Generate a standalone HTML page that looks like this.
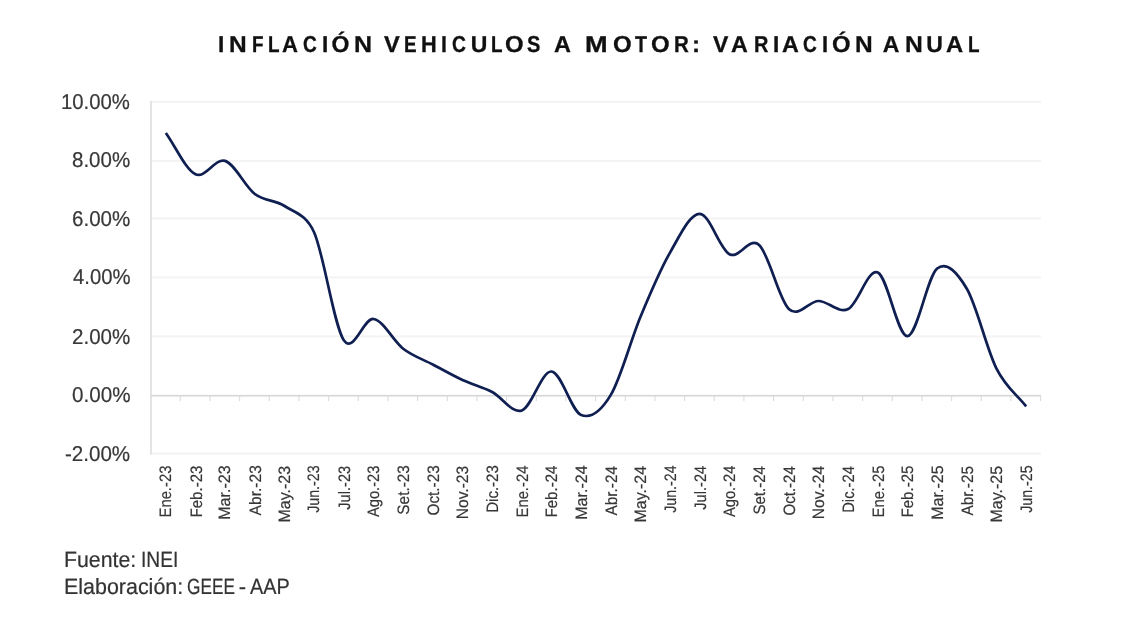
<!DOCTYPE html>
<html lang="es">
<head>
<meta charset="utf-8">
<title>Inflación vehículos a motor: variación anual</title>
<style>
html,body{margin:0;padding:0;background:#fff;}
body{width:1148px;height:621px;position:relative;overflow:hidden;font-family:"Liberation Sans",sans-serif;text-rendering:geometricPrecision;}
#chart{position:absolute;left:0;top:0;width:1148px;height:621px;will-change:transform;}
svg{position:absolute;left:0;top:0;}
.t{position:absolute;white-space:pre;transform-origin:0 0;font-family:"Liberation Sans",sans-serif;}
.xl{font-family:"Liberation Sans",sans-serif;font-size:16.5px;fill:#363636;stroke:#363636;stroke-width:0.2px;text-rendering:geometricPrecision;}
</style>
</head>
<body>
<div id="chart">
<svg width="1148" height="621" viewBox="0 0 1148 621">
<rect x="151.0" y="100.8" width="890.0" height="2" fill="#f3f3f3"/>
<rect x="151.0" y="159.9" width="890.0" height="2" fill="#f3f3f3"/>
<rect x="151.0" y="217.5" width="890.0" height="2" fill="#f3f3f3"/>
<rect x="151.0" y="276.4" width="890.0" height="2" fill="#f3f3f3"/>
<rect x="151.0" y="335.4" width="890.0" height="2" fill="#f3f3f3"/>
<rect x="151.0" y="452.6" width="890.0" height="2" fill="#f3f3f3"/>
<rect x="150" y="101" width="2" height="353.6" fill="#e4e4e4"/>
<rect x="151.0" y="394.9" width="890.0" height="1.6" fill="#d6d6d6"/>
<rect x="179.72" y="395.8" width="1.1" height="5.3" fill="#dcdcdc"/>
<rect x="209.38" y="395.8" width="1.1" height="5.3" fill="#dcdcdc"/>
<rect x="239.05" y="395.8" width="1.1" height="5.3" fill="#dcdcdc"/>
<rect x="268.72" y="395.8" width="1.1" height="5.3" fill="#dcdcdc"/>
<rect x="298.38" y="395.8" width="1.1" height="5.3" fill="#dcdcdc"/>
<rect x="328.05" y="395.8" width="1.1" height="5.3" fill="#dcdcdc"/>
<rect x="357.72" y="395.8" width="1.1" height="5.3" fill="#dcdcdc"/>
<rect x="387.38" y="395.8" width="1.1" height="5.3" fill="#dcdcdc"/>
<rect x="417.05" y="395.8" width="1.1" height="5.3" fill="#dcdcdc"/>
<rect x="446.72" y="395.8" width="1.1" height="5.3" fill="#dcdcdc"/>
<rect x="476.38" y="395.8" width="1.1" height="5.3" fill="#dcdcdc"/>
<rect x="506.05" y="395.8" width="1.1" height="5.3" fill="#dcdcdc"/>
<rect x="535.72" y="395.8" width="1.1" height="5.3" fill="#dcdcdc"/>
<rect x="565.38" y="395.8" width="1.1" height="5.3" fill="#dcdcdc"/>
<rect x="595.05" y="395.8" width="1.1" height="5.3" fill="#dcdcdc"/>
<rect x="624.72" y="395.8" width="1.1" height="5.3" fill="#dcdcdc"/>
<rect x="654.38" y="395.8" width="1.1" height="5.3" fill="#dcdcdc"/>
<rect x="684.05" y="395.8" width="1.1" height="5.3" fill="#dcdcdc"/>
<rect x="713.72" y="395.8" width="1.1" height="5.3" fill="#dcdcdc"/>
<rect x="743.38" y="395.8" width="1.1" height="5.3" fill="#dcdcdc"/>
<rect x="773.05" y="395.8" width="1.1" height="5.3" fill="#dcdcdc"/>
<rect x="802.72" y="395.8" width="1.1" height="5.3" fill="#dcdcdc"/>
<rect x="832.38" y="395.8" width="1.1" height="5.3" fill="#dcdcdc"/>
<rect x="862.05" y="395.8" width="1.1" height="5.3" fill="#dcdcdc"/>
<rect x="891.72" y="395.8" width="1.1" height="5.3" fill="#dcdcdc"/>
<rect x="921.38" y="395.8" width="1.1" height="5.3" fill="#dcdcdc"/>
<rect x="951.05" y="395.8" width="1.1" height="5.3" fill="#dcdcdc"/>
<rect x="980.72" y="395.8" width="1.1" height="5.3" fill="#dcdcdc"/>
<rect x="1010.38" y="395.8" width="1.1" height="5.3" fill="#dcdcdc"/>
<rect x="1040.05" y="395.8" width="1.1" height="5.3" fill="#dcdcdc"/>
<path d="M165.83,133.00 C175.72,146.77 185.61,169.65 195.50,174.30 C205.39,178.95 215.28,157.62 225.17,160.90 C235.06,164.18 244.94,186.48 254.83,194.00 C264.72,201.52 274.61,199.58 284.50,206.00 C294.39,212.42 306.13,214.31 314.17,232.50 C324.06,254.88 333.94,325.88 343.83,340.30 C353.72,354.72 363.61,317.60 373.50,319.00 C383.39,320.40 393.28,341.12 403.17,348.70 C413.06,356.28 422.94,359.28 432.83,364.50 C442.72,369.72 452.61,375.42 462.50,380.00 C472.39,384.58 482.28,386.92 492.17,392.00 C502.06,397.08 511.94,413.92 521.83,410.50 C531.72,407.08 541.61,370.75 551.50,371.50 C561.39,372.25 571.28,411.10 581.17,415.00 C591.06,418.90 601.57,410.24 610.83,394.90 C620.72,378.52 630.61,340.47 640.50,316.70 C650.39,292.93 660.28,269.45 670.17,252.30 C680.06,235.15 689.94,213.48 699.83,213.80 C709.72,214.12 719.61,249.00 729.50,254.20 C739.39,259.40 749.28,235.87 759.17,245.00 C769.06,254.13 778.94,299.67 788.83,309.00 C798.72,318.33 808.61,301.00 818.50,301.00 C828.39,301.00 838.28,313.75 848.17,309.00 C858.06,304.25 867.94,267.97 877.83,272.50 C887.72,277.03 897.61,336.87 907.50,336.20 C917.39,335.53 927.28,276.42 937.17,268.50 C947.06,260.58 957.68,273.26 966.83,288.70 C976.72,305.38 986.61,348.98 996.50,368.60 C1006.39,388.22 1016.28,393.80 1026.17,406.40" fill="none" stroke="#101f52" stroke-width="2.7" stroke-linecap="butt" stroke-linejoin="round"/>
<text class="xl" transform="translate(171.43,517.50) rotate(-90) scale(0.8982,1)">Ene.-23</text>
<text class="xl" transform="translate(201.70,517.51) rotate(-90) scale(0.9145,1)">Feb.-23</text>
<text class="xl" transform="translate(230.37,519.87) rotate(-90) scale(0.9741,1)">Mar.-23</text>
<text class="xl" transform="translate(260.53,515.40) rotate(-90) scale(0.9442,1)">Abr.-23</text>
<text class="xl" transform="translate(289.80,522.47) rotate(-90) scale(0.9684,1)">May.-23</text>
<text class="xl" transform="translate(319.37,512.80) rotate(-90) scale(0.8611,1)">Jun.-23</text>
<text class="xl" transform="translate(349.73,509.70) rotate(-90) scale(0.8857,1)">Jul.-23</text>
<text class="xl" transform="translate(378.50,517.10) rotate(-90) scale(0.8912,1)">Ago.-23</text>
<text class="xl" transform="translate(408.77,514.63) rotate(-90) scale(0.9294,1)">Set.-23</text>
<text class="xl" transform="translate(438.53,515.43) rotate(-90) scale(0.9269,1)">Oct.-23</text>
<text class="xl" transform="translate(468.20,519.35) rotate(-90) scale(0.9473,1)">Nov.-23</text>
<text class="xl" transform="translate(497.77,512.81) rotate(-90) scale(0.9120,1)">Dic.-23</text>
<text class="xl" transform="translate(527.63,517.50) rotate(-90) scale(0.8982,1)">Ene.-24</text>
<text class="xl" transform="translate(557.30,517.51) rotate(-90) scale(0.9145,1)">Feb.-24</text>
<text class="xl" transform="translate(586.97,519.87) rotate(-90) scale(0.9741,1)">Mar.-24</text>
<text class="xl" transform="translate(616.63,515.40) rotate(-90) scale(0.9264,1)">Abr.-24</text>
<text class="xl" transform="translate(646.30,522.47) rotate(-90) scale(0.9684,1)">May.-24</text>
<text class="xl" transform="translate(675.97,512.80) rotate(-90) scale(0.8611,1)">Jun.-24</text>
<text class="xl" transform="translate(705.63,509.70) rotate(-90) scale(0.8857,1)">Jul.-24</text>
<text class="xl" transform="translate(735.30,517.10) rotate(-90) scale(0.8912,1)">Ago.-24</text>
<text class="xl" transform="translate(764.97,514.61) rotate(-90) scale(0.9115,1)">Set.-24</text>
<text class="xl" transform="translate(794.63,515.41) rotate(-90) scale(0.9094,1)">Oct.-24</text>
<text class="xl" transform="translate(824.30,519.35) rotate(-90) scale(0.9473,1)">Nov.-24</text>
<text class="xl" transform="translate(853.97,512.79) rotate(-90) scale(0.8941,1)">Dic.-24</text>
<text class="xl" transform="translate(883.63,517.50) rotate(-90) scale(0.8982,1)">Ene.-25</text>
<text class="xl" transform="translate(913.30,517.51) rotate(-90) scale(0.9145,1)">Feb.-25</text>
<text class="xl" transform="translate(942.97,519.87) rotate(-90) scale(0.9741,1)">Mar.-25</text>
<text class="xl" transform="translate(972.63,515.40) rotate(-90) scale(0.9264,1)">Abr.-25</text>
<text class="xl" transform="translate(1002.30,522.47) rotate(-90) scale(0.9684,1)">May.-25</text>
<text class="xl" transform="translate(1031.97,512.80) rotate(-90) scale(0.8611,1)">Jun.-25</text>
</svg>
<div class="title"><span class="w"><span class="t" style="left:218.22px;top:33.03px;font-size:23px;line-height:23px;font-weight:bold;color:#101010;-webkit-text-stroke:0.3px #101010;transform:scaleX(0.975);">I</span><span class="t" style="left:229.34px;top:33.03px;font-size:23px;line-height:23px;font-weight:bold;color:#101010;-webkit-text-stroke:0.3px #101010;transform:scaleX(1.064);">N</span><span class="t" style="left:251.56px;top:33.03px;font-size:23px;line-height:23px;font-weight:bold;color:#101010;-webkit-text-stroke:0.3px #101010;transform:scaleX(0.820);">F</span><span class="t" style="left:267.76px;top:33.03px;font-size:23px;line-height:23px;font-weight:bold;color:#101010;-webkit-text-stroke:0.3px #101010;transform:scaleX(0.820);">L</span><span class="t" style="left:282.24px;top:33.03px;font-size:23px;line-height:23px;font-weight:bold;color:#101010;-webkit-text-stroke:0.3px #101010;transform:scaleX(0.960);">A</span><span class="t" style="left:303.27px;top:33.03px;font-size:23px;line-height:23px;font-weight:bold;color:#101010;-webkit-text-stroke:0.3px #101010;transform:scaleX(0.833);">C</span><span class="t" style="left:321.62px;top:33.03px;font-size:23px;line-height:23px;font-weight:bold;color:#101010;-webkit-text-stroke:0.3px #101010;transform:scaleX(0.975);">I</span><span class="t" style="left:331.51px;top:33.03px;font-size:23px;line-height:23px;font-weight:bold;color:#101010;-webkit-text-stroke:0.3px #101010;">Ó</span><span class="t" style="left:354.41px;top:33.03px;font-size:23px;line-height:23px;font-weight:bold;color:#101010;-webkit-text-stroke:0.3px #101010;transform:scaleX(1.086);">N</span></span> <span class="w"><span class="t" style="left:384.00px;top:33.03px;font-size:23px;line-height:23px;font-weight:bold;color:#101010;-webkit-text-stroke:0.3px #101010;transform:scaleX(1.027);">V</span><span class="t" style="left:403.69px;top:33.03px;font-size:23px;line-height:23px;font-weight:bold;color:#101010;-webkit-text-stroke:0.3px #101010;transform:scaleX(0.820);">E</span><span class="t" style="left:420.75px;top:33.03px;font-size:23px;line-height:23px;font-weight:bold;color:#101010;-webkit-text-stroke:0.3px #101010;transform:scaleX(0.946);">H</span><span class="t" style="left:441.27px;top:33.03px;font-size:23px;line-height:23px;font-weight:bold;color:#101010;-webkit-text-stroke:0.3px #101010;transform:scaleX(0.925);">I</span><span class="t" style="left:451.76px;top:33.03px;font-size:23px;line-height:23px;font-weight:bold;color:#101010;-webkit-text-stroke:0.3px #101010;transform:scaleX(0.840);">C</span><span class="t" style="left:470.71px;top:33.03px;font-size:23px;line-height:23px;font-weight:bold;color:#101010;-webkit-text-stroke:0.3px #101010;">U</span><span class="t" style="left:490.71px;top:33.03px;font-size:23px;line-height:23px;font-weight:bold;color:#101010;-webkit-text-stroke:0.3px #101010;transform:scaleX(0.820);">L</span><span class="t" style="left:505.06px;top:33.03px;font-size:23px;line-height:23px;font-weight:bold;color:#101010;-webkit-text-stroke:0.3px #101010;transform:scaleX(1.038);">O</span><span class="t" style="left:527.03px;top:33.03px;font-size:23px;line-height:23px;font-weight:bold;color:#101010;-webkit-text-stroke:0.3px #101010;transform:scaleX(0.869);">S</span></span> <span class="w"><span class="t" style="left:553.88px;top:33.03px;font-size:23px;line-height:23px;font-weight:bold;color:#101010;-webkit-text-stroke:0.3px #101010;transform:scaleX(1.020);">A</span></span> <span class="w"><span class="t" style="left:585.19px;top:33.03px;font-size:23px;line-height:23px;font-weight:bold;color:#101010;-webkit-text-stroke:0.3px #101010;transform:scaleX(1.180);">M</span><span class="t" style="left:612.56px;top:33.03px;font-size:23px;line-height:23px;font-weight:bold;color:#101010;-webkit-text-stroke:0.3px #101010;transform:scaleX(1.044);">O</span><span class="t" style="left:635.00px;top:33.03px;font-size:23px;line-height:23px;font-weight:bold;color:#101010;-webkit-text-stroke:0.3px #101010;transform:scaleX(0.857);">T</span><span class="t" style="left:651.26px;top:33.03px;font-size:23px;line-height:23px;font-weight:bold;color:#101010;-webkit-text-stroke:0.3px #101010;transform:scaleX(1.044);">O</span><span class="t" style="left:673.51px;top:33.03px;font-size:23px;line-height:23px;font-weight:bold;color:#101010;-webkit-text-stroke:0.3px #101010;transform:scaleX(0.893);">R</span><span class="t" style="left:692.00px;top:33.03px;font-size:23px;line-height:23px;font-weight:bold;color:#101010;-webkit-text-stroke:0.3px #101010;transform:scaleX(1.050);">:</span></span> <span class="w"><span class="t" style="left:713.10px;top:33.03px;font-size:23px;line-height:23px;font-weight:bold;color:#101010;-webkit-text-stroke:0.3px #101010;">V</span><span class="t" style="left:731.39px;top:33.03px;font-size:23px;line-height:23px;font-weight:bold;color:#101010;-webkit-text-stroke:0.3px #101010;transform:scaleX(1.013);">A</span><span class="t" style="left:754.03px;top:33.03px;font-size:23px;line-height:23px;font-weight:bold;color:#101010;-webkit-text-stroke:0.3px #101010;transform:scaleX(0.867);">R</span><span class="t" style="left:773.03px;top:33.03px;font-size:23px;line-height:23px;font-weight:bold;color:#101010;-webkit-text-stroke:0.3px #101010;transform:scaleX(0.975);">I</span><span class="t" style="left:782.09px;top:33.03px;font-size:23px;line-height:23px;font-weight:bold;color:#101010;-webkit-text-stroke:0.3px #101010;transform:scaleX(1.013);">A</span><span class="t" style="left:803.47px;top:33.03px;font-size:23px;line-height:23px;font-weight:bold;color:#101010;-webkit-text-stroke:0.3px #101010;transform:scaleX(0.833);">C</span><span class="t" style="left:822.25px;top:33.03px;font-size:23px;line-height:23px;font-weight:bold;color:#101010;-webkit-text-stroke:0.3px #101010;transform:scaleX(0.950);">I</span><span class="t" style="left:832.36px;top:33.03px;font-size:23px;line-height:23px;font-weight:bold;color:#101010;-webkit-text-stroke:0.3px #101010;transform:scaleX(1.038);">Ó</span><span class="t" style="left:855.14px;top:33.03px;font-size:23px;line-height:23px;font-weight:bold;color:#101010;-webkit-text-stroke:0.3px #101010;transform:scaleX(1.064);">N</span></span> <span class="w"><span class="t" style="left:882.64px;top:33.03px;font-size:23px;line-height:23px;font-weight:bold;color:#101010;-webkit-text-stroke:0.3px #101010;">A</span><span class="t" style="left:904.53px;top:33.03px;font-size:23px;line-height:23px;font-weight:bold;color:#101010;-webkit-text-stroke:0.3px #101010;transform:scaleX(1.071);">N</span><span class="t" style="left:926.21px;top:33.03px;font-size:23px;line-height:23px;font-weight:bold;color:#101010;-webkit-text-stroke:0.3px #101010;">U</span><span class="t" style="left:945.87px;top:33.03px;font-size:23px;line-height:23px;font-weight:bold;color:#101010;-webkit-text-stroke:0.3px #101010;transform:scaleX(1.033);">A</span><span class="t" style="left:967.81px;top:33.03px;font-size:23px;line-height:23px;font-weight:bold;color:#101010;-webkit-text-stroke:0.3px #101010;transform:scaleX(0.820);">L</span></span></div>
<div class="ylabels">
<span class="t" style="left:61.10px;top:91.78px;font-size:21.4px;line-height:21.4px;transform:scaleX(0.9500);color:#383838;-webkit-text-stroke:0.22px #383838;">10.00%</span>
<span class="t" style="left:71.94px;top:149.68px;font-size:21.4px;line-height:21.4px;transform:scaleX(0.9593);color:#383838;-webkit-text-stroke:0.22px #383838;">8.00%</span>
<span class="t" style="left:71.84px;top:208.93px;font-size:21.4px;line-height:21.4px;transform:scaleX(0.9610);color:#383838;-webkit-text-stroke:0.22px #383838;">6.00%</span>
<span class="t" style="left:72.60px;top:267.43px;font-size:21.4px;line-height:21.4px;transform:scaleX(0.9483);color:#383838;-webkit-text-stroke:0.22px #383838;">4.00%</span>
<span class="t" style="left:71.84px;top:326.93px;font-size:21.4px;line-height:21.4px;transform:scaleX(0.9610);color:#383838;-webkit-text-stroke:0.22px #383838;">2.00%</span>
<span class="t" style="left:71.64px;top:384.53px;font-size:21.4px;line-height:21.4px;transform:scaleX(0.9644);color:#383838;-webkit-text-stroke:0.22px #383838;">0.00%</span>
<span class="t" style="left:65.14px;top:443.73px;font-size:21.4px;line-height:21.4px;transform:scaleX(0.9606);color:#383838;-webkit-text-stroke:0.22px #383838;">-2.00%</span>
</div>
<div class="foot"><span class="t" style="left:63.86px;top:548.88px;font-size:22px;line-height:22px;transform:scaleX(0.9676);color:#333333;-webkit-text-stroke:0.22px #333333;">Fuente:</span> <span class="t" style="left:140.86px;top:548.88px;font-size:22px;line-height:22px;transform:scaleX(0.8718);color:#333333;-webkit-text-stroke:0.22px #333333;">INEI</span></div>
<div class="foot"><span class="t" style="left:63.85px;top:576.18px;font-size:22px;line-height:22px;transform:scaleX(0.9746);color:#333333;-webkit-text-stroke:0.22px #333333;">Elaboración:</span> <span class="t" style="left:186.62px;top:576.18px;font-size:22px;line-height:22px;transform:scaleX(0.7831);color:#333333;-webkit-text-stroke:0.22px #333333;">GEEE</span> <span class="t" style="left:238.75px;top:576.18px;font-size:22px;line-height:22px;color:#333333;-webkit-text-stroke:0.22px #333333;">-</span> <span class="t" style="left:249.70px;top:576.18px;font-size:22px;line-height:22px;transform:scaleX(0.9023);color:#333333;-webkit-text-stroke:0.22px #333333;">AAP</span></div>
</div>
</body>
</html>
